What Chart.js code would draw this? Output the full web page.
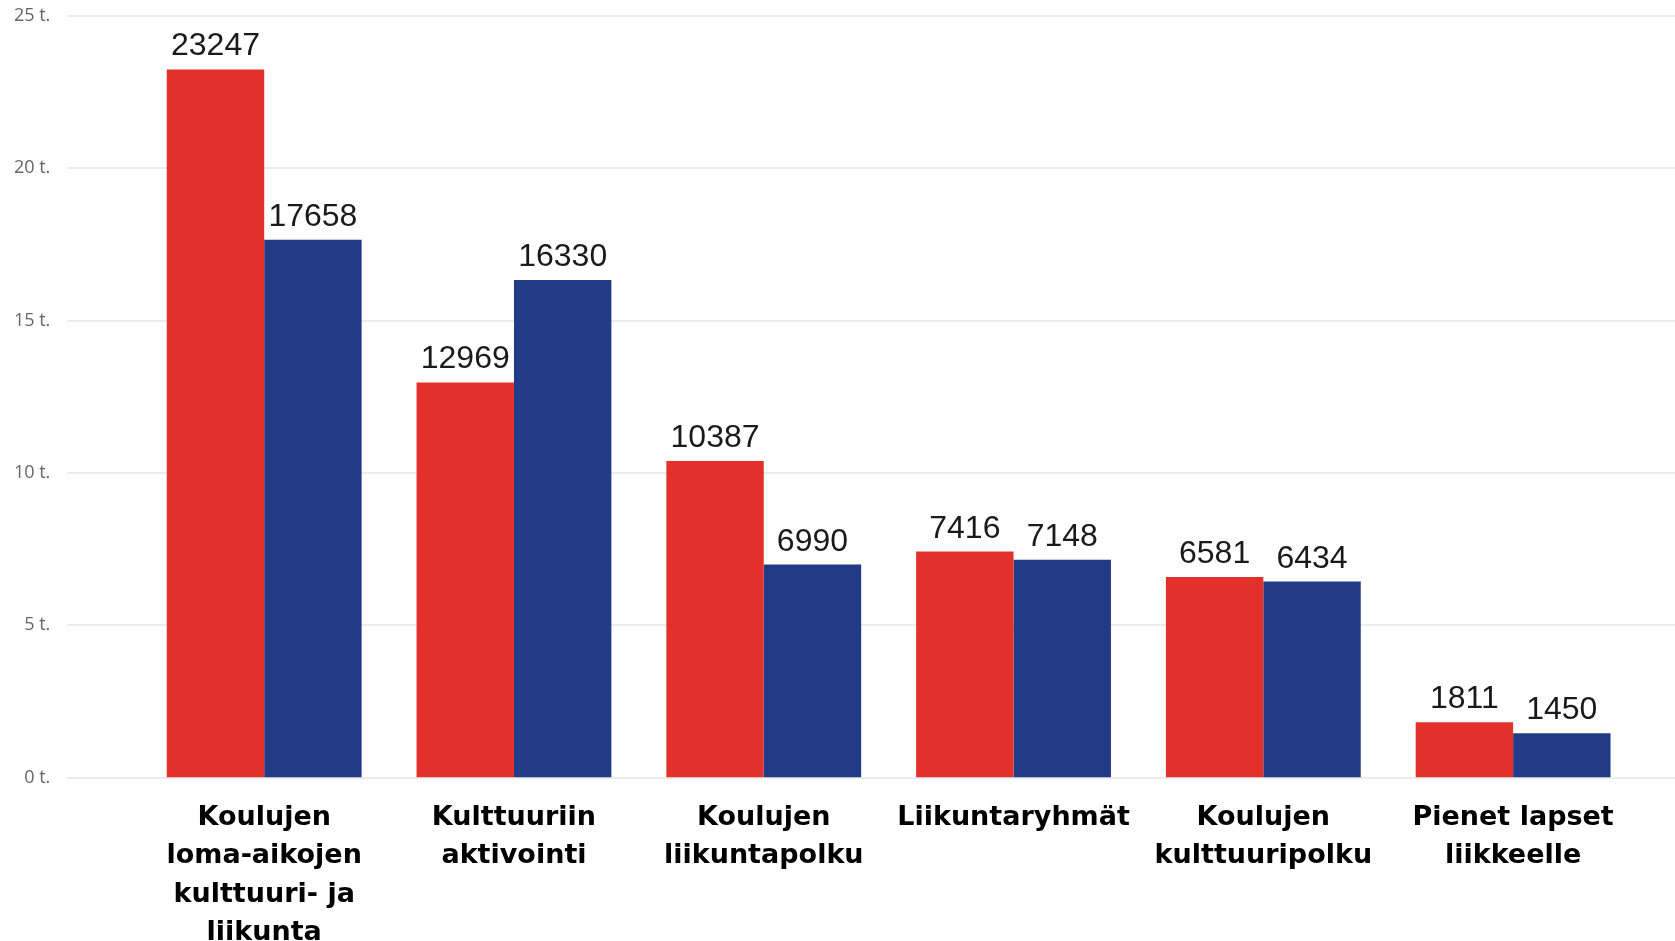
<!DOCTYPE html>
<html lang="fi">
<head>
<meta charset="utf-8">
<title>Osallistujat</title>
<script src="https://cdn.jsdelivr.net/npm/chart.js@4.4.1/dist/chart.umd.min.js"></script>
<style>
  html, body { margin: 0; padding: 0; background: #fff; }
  #wrap { width: 1675px; height: 941px; position: relative; }
</style>
</head>
<body>
<div id="wrap"><canvas id="chart"></canvas></div>
<script>
const categories = [
  ['Koulujen', 'loma-aikojen', 'kulttuuri- ja', 'liikunta'],
  ['Kulttuuriin', 'aktivointi'],
  ['Koulujen', 'liikuntapolku'],
  'Liikuntaryhmät',
  ['Koulujen', 'kulttuuripolku'],
  ['Pienet lapset', 'liikkeelle']
];
const seriesRed = [23247, 12969, 10387, 7416, 6581, 1811];
const seriesBlue = [17658, 16330, 6990, 7148, 6434, 1450];
const yTicks = [0, 5000, 10000, 15000, 20000, 25000];
const yTickLabels = ['0 t.', '5 t.', '10 t.', '15 t.', '20 t.', '25 t.'];

// horizontal grid running from the left of the tick labels to the canvas edge
const fullGrid = {
  id: 'fullGrid',
  beforeDatasetsDraw(chart) {
    const { ctx, chartArea, scales: { y } } = chart;
    ctx.save();
    ctx.strokeStyle = '#ececec';
    ctx.lineWidth = 2;
    y.ticks.forEach(t => {
      const py = Math.round(y.getPixelForValue(t.value));
      ctx.beginPath();
      ctx.moveTo(chartArea.left - 72, py);
      ctx.lineTo(chart.width, py);
      ctx.stroke();
    });
    ctx.restore();
  }
};

// value printed above each bar
const valueLabels = {
  id: 'valueLabels',
  afterDatasetsDraw(chart) {
    const { ctx } = chart;
    ctx.save();
    ctx.font = '32px "Liberation Sans", Arial, sans-serif';
    ctx.fillStyle = '#1a1a1a';
    ctx.textAlign = 'center';
    ctx.textBaseline = 'alphabetic';
    chart.data.datasets.forEach((ds, i) => {
      chart.getDatasetMeta(i).data.forEach((bar, j) => {
        ctx.fillText(String(ds.data[j]), bar.x, bar.y - 14);
      });
    });
    ctx.restore();
  }
};

new Chart(document.getElementById('chart'), {
  type: 'bar',
  data: {
    labels: categories,
    datasets: [{
      label: 'Sarja 1',
      data: seriesRed,
      backgroundColor: '#E4302A',
      borderWidth: 0,
      categoryPercentage: 0.78,
      barPercentage: 1.0
    }, {
      label: 'Sarja 2',
      data: seriesBlue,
      backgroundColor: '#233A87',
      borderWidth: 0,
      categoryPercentage: 0.78,
      barPercentage: 1.0
    }]
  },
  options: {
    responsive: true,
    maintainAspectRatio: false,
    animation: false,
    layout: { padding: { top: 16, right: 37, left: 0, bottom: 0 } },
    plugins: {
      legend: { display: false },
      tooltip: { enabled: false }
    },
    scales: {
      x: {
        grid: { display: false, drawTicks: false },
        border: { display: false },
        ticks: {
          color: '#000',
          autoSkip: false,
          maxRotation: 0,
          padding: 21,
          font: { family: '"DejaVu Sans", sans-serif', size: 27, weight: 'bold', lineHeight: 1.426 }
        },
        afterFit(scale) { scale.height = 163.5; }
      },
      y: {
        min: 0,
        max: 25000,
        // tick marks hidden, their length only spaces the labels away from the bars
        grid: { display: false, drawTicks: true, tickLength: 89 },
        border: { display: false },
        afterBuildTicks(scale) { scale.ticks = yTicks.map(v => ({ value: v })); },
        ticks: {
          color: '#666',
          padding: 0,
          font: { family: '"Open Sans", sans-serif', size: 18 },
          callback: (v) => yTickLabels[yTicks.indexOf(v)]
        },
        afterFit(scale) { scale.width = 139.3; }
      }
    }
  },
  plugins: [fullGrid, valueLabels]
});
</script>
</body>
</html>
